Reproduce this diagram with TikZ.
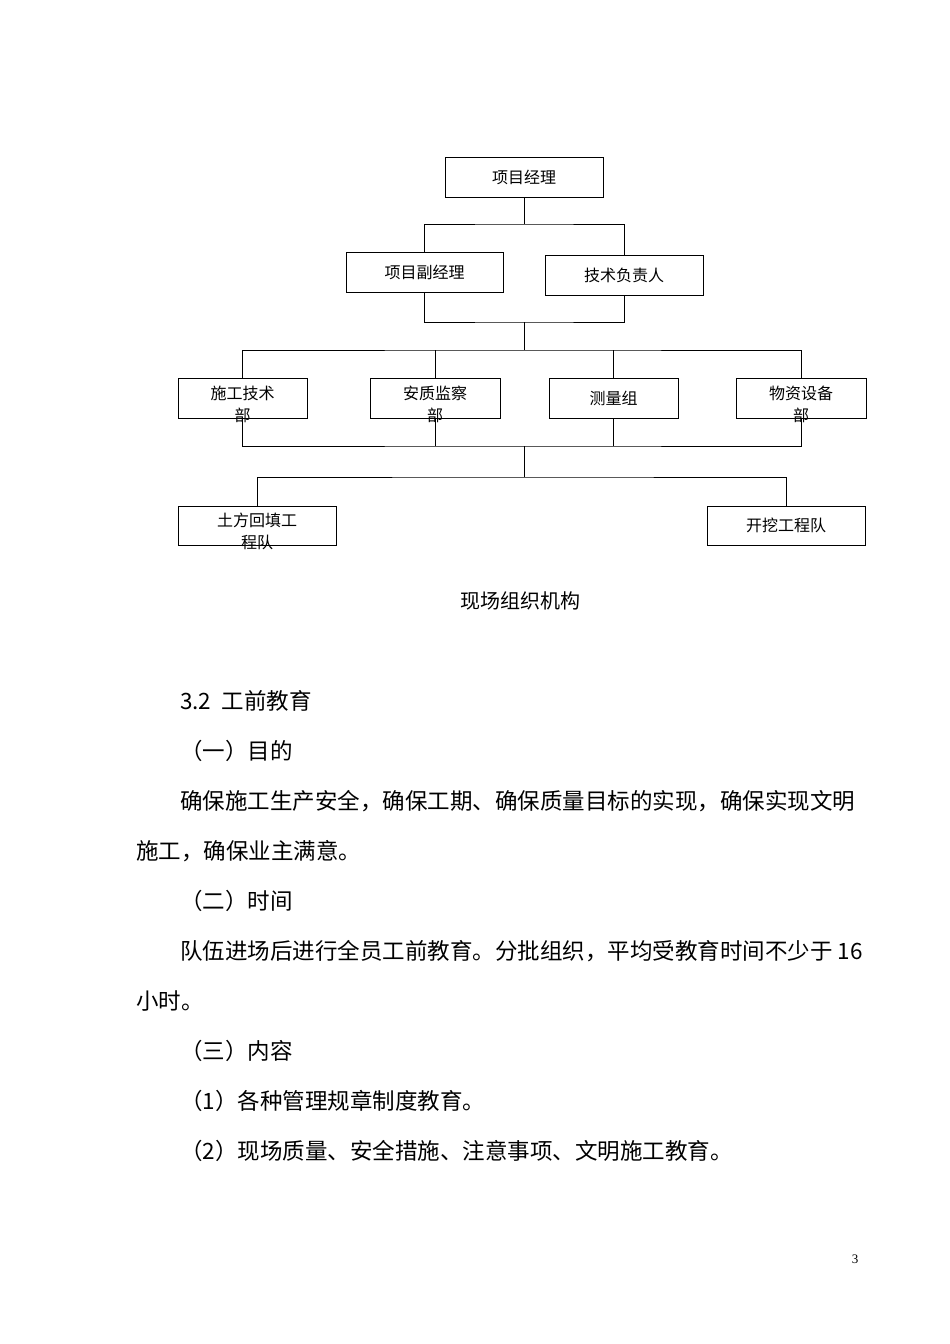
\documentclass[tikz,border=0pt]{standalone}
\usepackage{fontspec}
\setmainfont{Noto Sans CJK SC}
\begin{document}
\begin{tikzpicture}[x=1pt,y=-1pt,
  bx/.style={draw,line width=0.8pt,inner sep=0pt},
  lbl/.style={font=\fontsize{16}{24}\selectfont,align=center,inner sep=0pt},
  ln/.style={line width=0.8pt},
  body/.style={font=\fontsize{22.5}{26}\selectfont,anchor=west,inner sep=0pt}]
\useasboundingbox (0,0) rectangle (950,1344);
\fill[white] (0,0) rectangle (950,1344);
% boxes
\node[bx,minimum width=158,minimum height=40] (pm) at (524,177) {};
\node[lbl] at (pm) {项目经理};
\node[bx,minimum width=157,minimum height=40] (dpm) at (424.5,272) {};
\node[lbl] at (dpm) {项目副经理};
\node[bx,minimum width=158,minimum height=40] (tech) at (624,275) {};
\node[lbl] at (tech) {技术负责人};
\node[bx,minimum width=129,minimum height=40] (d1) at (242.5,398) {};
\node[lbl,anchor=north] at (242.5,386) {施工技术\\[-2pt]部};
\node[bx,minimum width=130,minimum height=40] (d2) at (435,398) {};
\node[lbl,anchor=north] at (435,386) {安质监察\\[-2pt]部};
\node[bx,minimum width=129,minimum height=40] (d3) at (613.5,398) {};
\node[lbl] at (d3) {测量组};
\node[bx,minimum width=130,minimum height=40] (d4) at (801,398) {};
\node[lbl,anchor=north] at (801,386) {物资设备\\[-2pt]部};
\node[bx,minimum width=158,minimum height=39] (t1) at (257,525.5) {};
\node[lbl,anchor=north] at (257,513) {土方回填工\\[-2pt]程队};
\node[bx,minimum width=158,minimum height=39] (t2) at (786,525.5) {};
\node[lbl] at (t2) {开挖工程队};
% connectors
\coordinate (a) at (524,224);
\draw[ln] (pm.south) -- (a);
\draw[ln] (dpm.north) |- (a) -| (tech.north);
\coordinate (b) at (524,322);
\draw[ln] (dpm.south) |- (b) -| (tech.south);
\coordinate (c) at (524,350);
\draw[ln] (b) -- (c);
\draw[ln] (d1.north) |- (c) -| (d4.north);
\draw[ln] (d2.north |- c) -- (d2.north);
\draw[ln] (d3.north |- c) -- (d3.north);
\coordinate (d) at (524,446);
\draw[ln] (d1.south) |- (d) -| (d4.south);
\draw[ln] (d2.south) -- (d2.south |- d);
\draw[ln] (d3.south) -- (d3.south |- d);
\coordinate (e) at (524,477);
\draw[ln] (d) -- (e);
\draw[ln] (t1.north) |- (e) -| (t2.north);
% caption
\node[font=\fontsize{20}{24}\selectfont,inner sep=0pt] (cap) at (520,601) {现场组织机构};
% body
\node[body] (l1) at (180,701) {3.2\ \ 工前教育};
\node[body] (l2) at (180,751) {（一）目的};
\node[body] (l3) at (180,801) {确保施工生产安全，确保工期、确保质量目标的实现，确保实现文明};
\node[body] (l4) at (136,851) {施工，确保业主满意。};
\node[body] (l5) at (180,901) {（二）时间};
\node[body] (l6) at (180,951) {队伍进场后进行全员工前教育。分批组织，平均受教育时间不少于 16};
\node[body] (l7) at (136,1001) {小时。};
\node[body] (l8) at (180,1051) {（三）内容};
\node[body] (l9) at (180,1101) {（1）各种管理规章制度教育。};
\node[body] (l10) at (180,1151) {（2）现场质量、安全措施、注意事项、文明施工教育。};
\node[font=\fontspec{Liberation Serif}\fontsize{13}{14}\selectfont,inner sep=0pt] (pg) at (855,1259) {3};
\end{tikzpicture}
\end{document}
